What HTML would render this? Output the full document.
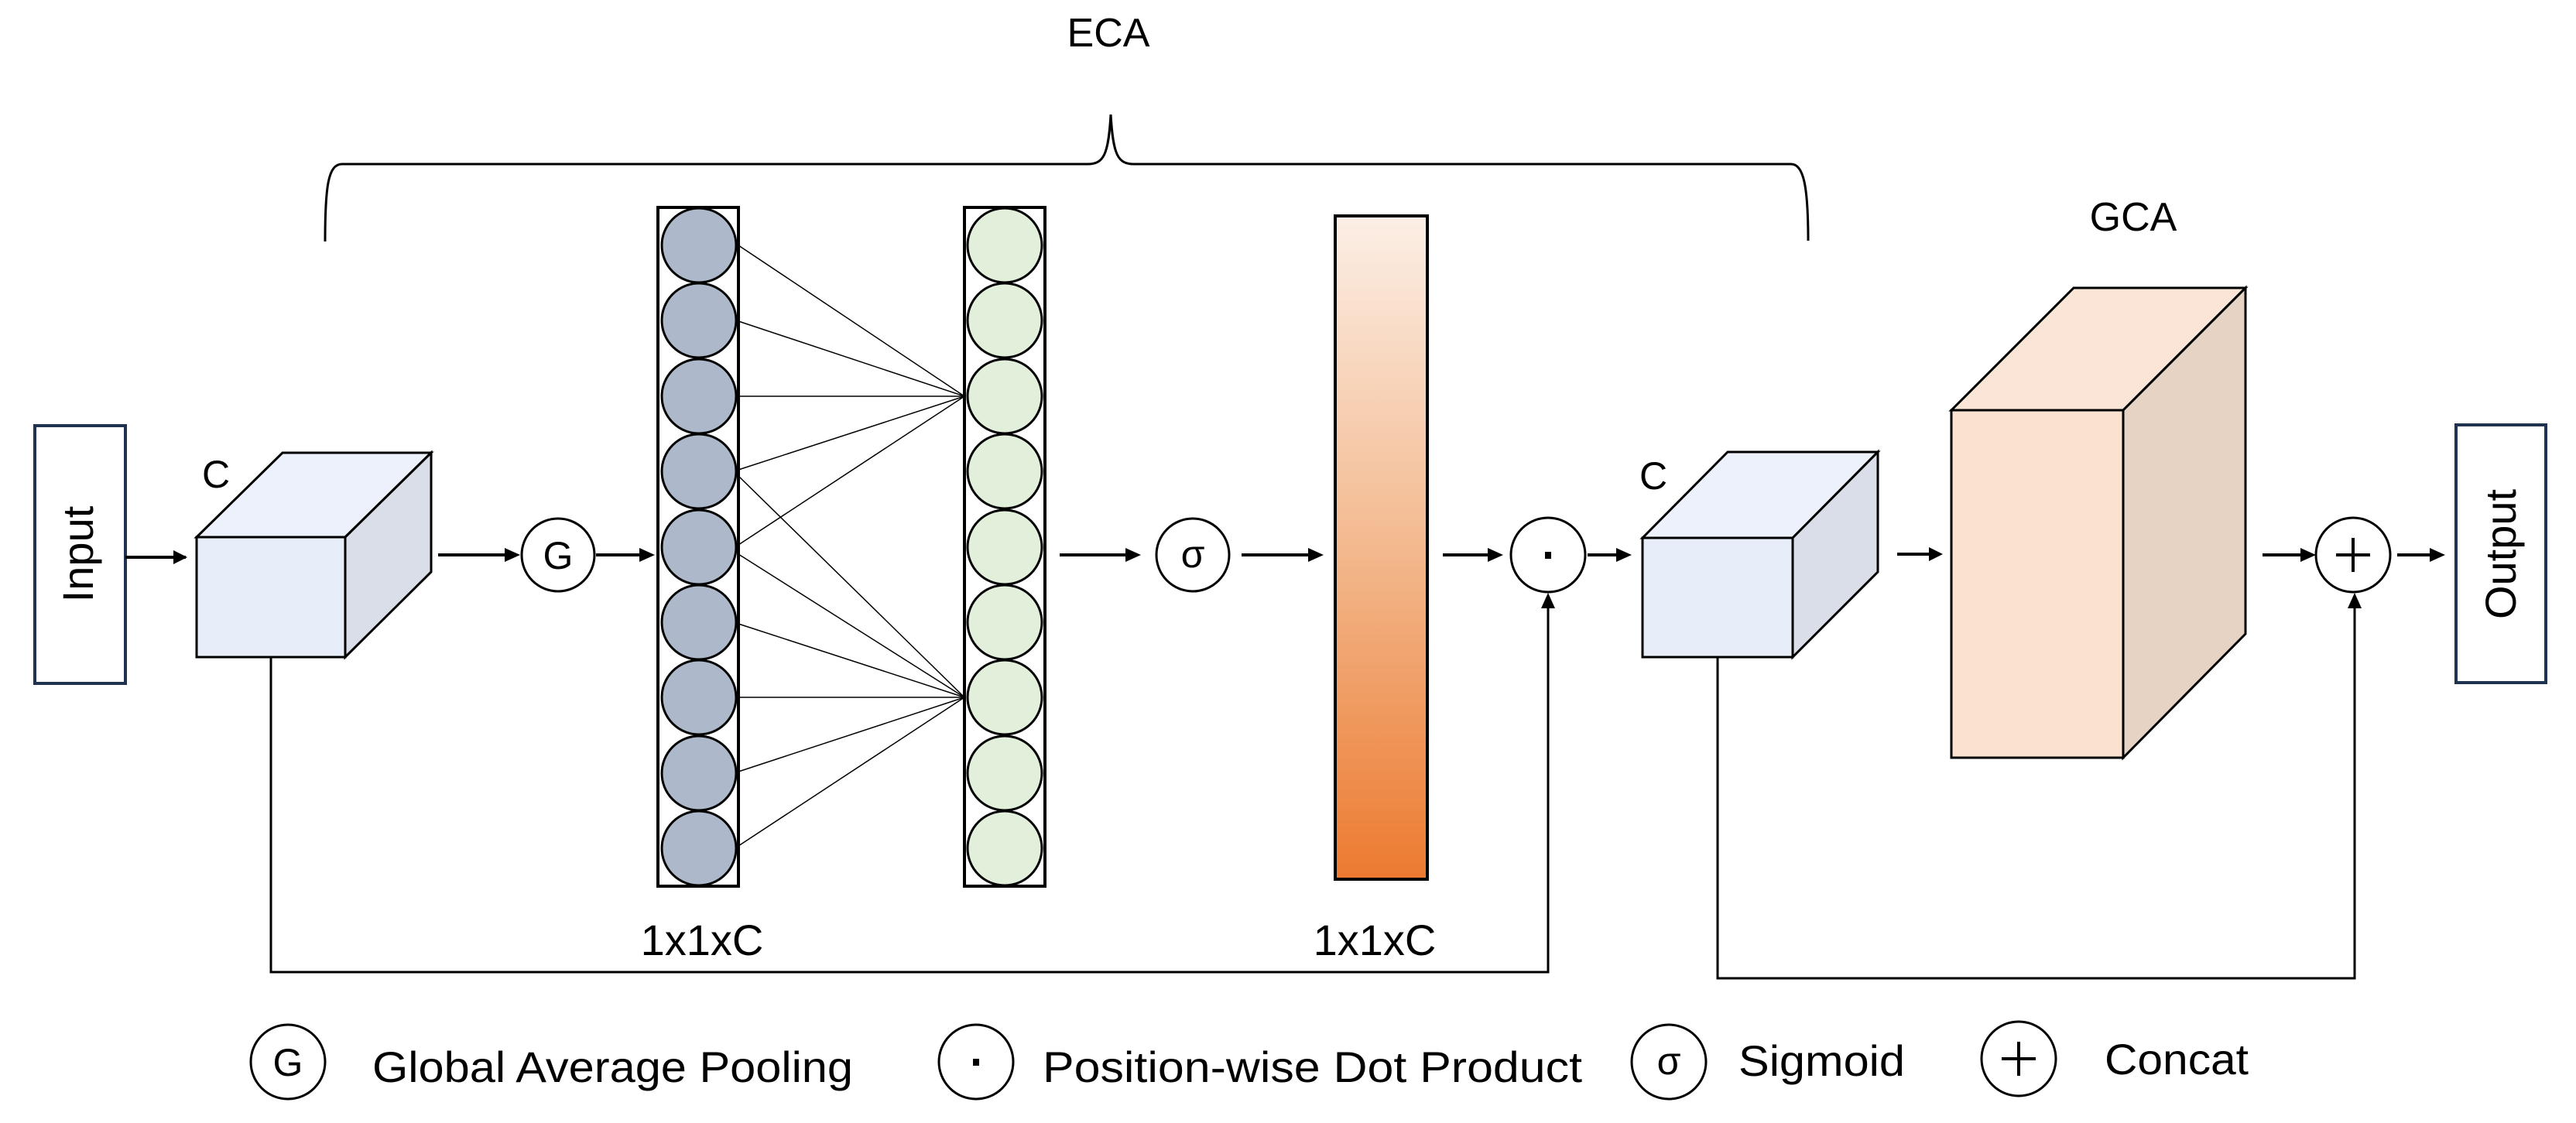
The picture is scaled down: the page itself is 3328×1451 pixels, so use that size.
<!DOCTYPE html>
<html><head><meta charset="utf-8"><style>html,body{margin:0;padding:0;background:#fff}svg{display:block}</style></head>
<body>
<svg width="3328" height="1451" viewBox="0 0 3328 1451" xmlns="http://www.w3.org/2000/svg" font-family="Liberation Sans, sans-serif">
<defs>
<marker id="a" markerWidth="10" markerHeight="10" refX="9" refY="5" orient="auto" markerUnits="userSpaceOnUse" viewBox="0 0 10 10"><path d="M0,0 L10,5 L0,10 z" fill="#000"/></marker>
<linearGradient id="og" x1="0" y1="0" x2="0" y2="1"><stop offset="0" stop-color="#fcefe6"/><stop offset="0.5" stop-color="#f3b98e"/><stop offset="1" stop-color="#ec7a30"/></linearGradient>
<style>.ar{stroke:#000;stroke-width:4;fill:none;marker-end:url(#a)} .ln{stroke:#000;stroke-width:3;fill:none}</style>
</defs>
<marker id="b"/>
<!-- ECA bracket -->
<path class="ln" d="M420,312 C420,240 424,212 442,212 L1405,212 C1426,212 1432,200 1435,148 C1438,200 1444,212 1465,212 L2314,212 C2330,212 2336,240 2336,311"/>
<text x="1432" y="60" font-size="52" text-anchor="middle">ECA</text>
<text x="2756" y="298" font-size="52" text-anchor="middle">GCA</text>

<!-- Input -->
<rect x="45" y="550" width="117" height="333" fill="#fff" stroke="#1f3250" stroke-width="4"/>
<text transform="translate(120,716) rotate(-90)" font-size="56" text-anchor="middle">Input</text>
<line class="ar" x1="162" y1="720" x2="240" y2="720" marker-end="url(#a)" style="marker-end:url(#a)"/>
<path d="M162,720 L232,720" stroke="#000" stroke-width="4"/>
<path d="M224,711 L242,720 L224,729 z" fill="#000"/>

<!-- Cube 1 -->
<polygon points="254,694 365,585 557,585 446,694" fill="#edf1fb" stroke="#000" stroke-width="3"/>
<polygon points="446,694 557,585 557,739 446,849" fill="#d9dee9" stroke="#000" stroke-width="3"/>
<rect x="254" y="694" width="192" height="155" fill="#e8eef9" stroke="#000" stroke-width="3"/>
<text x="279" y="630" font-size="50" text-anchor="middle">C</text>

<!-- skip 1 -->
<path class="ln" d="M350,849 L350,1256 L2000,1256 L2000,780"/>
<path d="M1991,786 L2000,766 L2009,786 z" fill="#000"/>

<!-- arrows -->
<path d="M566,717 L660,717" stroke="#000" stroke-width="4"/><path d="M652,708 L672,717 L652,726 z" fill="#000"/>
<circle cx="721" cy="717" r="47" fill="#fff" stroke="#000" stroke-width="3"/>
<text x="721" y="735" font-size="50" text-anchor="middle">G</text>
<path d="M770,717 L830,717" stroke="#000" stroke-width="4"/><path d="M826,708 L846,717 L826,726 z" fill="#000"/>

<!-- column 1 -->
<rect x="850" y="268" width="104" height="877" fill="#fff" stroke="#000" stroke-width="4"/>
<g fill="#adb9ca" stroke="#000" stroke-width="3">
<circle cx="903" cy="317" r="48"/><circle cx="903" cy="414" r="48"/><circle cx="903" cy="512" r="48"/><circle cx="903" cy="609" r="48"/><circle cx="903" cy="707" r="48"/><circle cx="903" cy="804" r="48"/><circle cx="903" cy="901" r="48"/><circle cx="903" cy="999" r="48"/><circle cx="903" cy="1096" r="48"/>
</g>
<!-- column 2 -->
<rect x="1246" y="268" width="104" height="877" fill="#fff" stroke="#000" stroke-width="4"/>
<g fill="#e2efda" stroke="#000" stroke-width="3">
<circle cx="1298" cy="317" r="48"/><circle cx="1298" cy="414" r="48"/><circle cx="1298" cy="512" r="48"/><circle cx="1298" cy="609" r="48"/><circle cx="1298" cy="707" r="48"/><circle cx="1298" cy="804" r="48"/><circle cx="1298" cy="901" r="48"/><circle cx="1298" cy="999" r="48"/><circle cx="1298" cy="1096" r="48"/>
</g>
<g stroke="#000" stroke-width="1.5">
<line x1="954" y1="317" x2="1246" y2="512"/><line x1="954" y1="415" x2="1246" y2="512"/><line x1="954" y1="512" x2="1246" y2="512"/><line x1="954" y1="607" x2="1246" y2="512"/><line x1="954" y1="704" x2="1246" y2="512"/>
<line x1="954" y1="615" x2="1246" y2="901"/><line x1="954" y1="716" x2="1246" y2="901"/><line x1="954" y1="806" x2="1246" y2="901"/><line x1="954" y1="901" x2="1246" y2="901"/><line x1="954" y1="997" x2="1246" y2="901"/><line x1="954" y1="1093" x2="1246" y2="901"/>
</g>

<path d="M1369,717 L1460,717" stroke="#000" stroke-width="4"/><path d="M1454,708 L1474,717 L1454,726 z" fill="#000"/>
<circle cx="1541" cy="717" r="47" fill="#fff" stroke="#000" stroke-width="3"/>
<text x="1541" y="733" font-size="50" text-anchor="middle">σ</text>
<path d="M1604,717 L1696,717" stroke="#000" stroke-width="4"/><path d="M1690,708 L1710,717 L1690,726 z" fill="#000"/>

<rect x="1725" y="279" width="119" height="857" fill="url(#og)" stroke="#000" stroke-width="4"/>

<path d="M1864,717 L1928,717" stroke="#000" stroke-width="4"/><path d="M1922,708 L1942,717 L1922,726 z" fill="#000"/>
<circle cx="2000" cy="717" r="48" fill="#fff" stroke="#000" stroke-width="3"/>
<rect x="1996" y="713" width="8" height="9" fill="#000"/>
<path d="M2051,717 L2094,717" stroke="#000" stroke-width="4"/><path d="M2088,708 L2108,717 L2088,726 z" fill="#000"/>

<!-- Cube 2 -->
<polygon points="2122,695 2232,584 2426,584 2316,695" fill="#edf1fb" stroke="#000" stroke-width="3"/>
<polygon points="2316,695 2426,584 2426,739 2316,849" fill="#d9dee9" stroke="#000" stroke-width="3"/>
<rect x="2122" y="695" width="194" height="154" fill="#e8eef9" stroke="#000" stroke-width="3"/>
<text x="2136" y="632" font-size="50" text-anchor="middle">C</text>

<path class="ln" d="M2219,849 L2219,1264 L3042,1264 L3042,780"/>
<path d="M3033,786 L3042,766 L3051,786 z" fill="#000"/>

<path d="M2451,716 L2496,716" stroke="#000" stroke-width="4"/><path d="M2492,707 L2510,716 L2492,725 z" fill="#000"/>

<!-- GCA box -->
<polygon points="2521,530 2679,372 2901,372 2743,530" fill="#fbe5d6" stroke="#000" stroke-width="3"/>
<polygon points="2743,530 2901,372 2901,819 2743,979" fill="#e7d3c4" stroke="#000" stroke-width="3"/>
<rect x="2521" y="530" width="222" height="449" fill="#fbe1d0" stroke="#000" stroke-width="3"/>

<path d="M2923,717 L2978,717" stroke="#000" stroke-width="4"/><path d="M2972,708 L2992,717 L2972,726 z" fill="#000"/>
<circle cx="3040" cy="717" r="48" fill="#fff" stroke="#000" stroke-width="3"/>
<path d="M3040,695 L3040,739 M3018,717 L3062,717" stroke="#000" stroke-width="4"/>
<path d="M3097,717 L3143,717" stroke="#000" stroke-width="4"/><path d="M3139,708 L3159,717 L3139,726 z" fill="#000"/>

<rect x="3173" y="549" width="116" height="333" fill="#fff" stroke="#1f3250" stroke-width="4"/>
<text transform="translate(3250,716) rotate(-90)" font-size="56" text-anchor="middle">Output</text>

<text x="907" y="1234" font-size="56" text-anchor="middle">1x1xC</text>
<text x="1776" y="1234" font-size="56" text-anchor="middle">1x1xC</text>

<!-- legend -->
<circle cx="372" cy="1372" r="48" fill="#fff" stroke="#000" stroke-width="3"/>
<text x="372" y="1390" font-size="50" text-anchor="middle">G</text>
<text x="481" y="1398" font-size="56" textLength="621" lengthAdjust="spacingAndGlyphs">Global Average Pooling</text>
<circle cx="1261" cy="1372" r="48" fill="#fff" stroke="#000" stroke-width="3"/>
<rect x="1257" y="1368" width="8" height="9" fill="#000"/>
<text x="1347" y="1398" font-size="56" textLength="697" lengthAdjust="spacingAndGlyphs">Position-wise Dot Product</text>
<circle cx="2156" cy="1372" r="48" fill="#fff" stroke="#000" stroke-width="3"/>
<text x="2156" y="1388" font-size="50" text-anchor="middle">σ</text>
<text x="2246" y="1390" font-size="56" textLength="215" lengthAdjust="spacingAndGlyphs">Sigmoid</text>
<circle cx="2608" cy="1368" r="48" fill="#fff" stroke="#000" stroke-width="3"/>
<path d="M2608,1346 L2608,1390 M2586,1368 L2630,1368" stroke="#000" stroke-width="4"/>
<text x="2719" y="1388" font-size="56" textLength="186" lengthAdjust="spacingAndGlyphs">Concat</text>
</svg>
</body></html>
